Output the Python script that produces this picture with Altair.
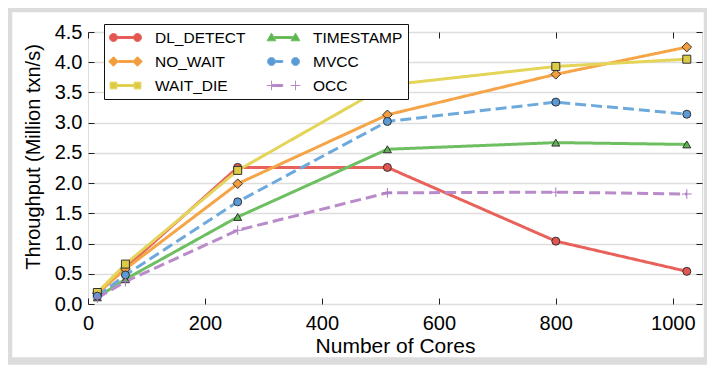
import altair as alt
import pandas as pd

# ---------------- data ----------------
cores = [16, 64, 256, 512, 800, 1024]
dl_detect = [0.17, 0.60, 2.26, 2.26, 1.04, 0.54]
no_wait = [0.18, 0.58, 1.99, 3.13, 3.80, 4.25]
wait_die = [0.19, 0.66, 2.21, 3.62, 3.93, 4.05]
timestamp = [0.11, 0.41, 1.44, 2.56, 2.67, 2.64]
mvcc = [0.13, 0.48, 1.69, 3.02, 3.34, 3.14]
occ = [0.10, 0.37, 1.22, 1.84, 1.85, 1.82]

series_names = ["DL_DETECT", "NO_WAIT", "WAIT_DIE", "TIMESTAMP", "MVCC", "OCC"]
series_values = [dl_detect, no_wait, wait_die, timestamp, mvcc, occ]
legend_order = series_names

x_ticks = [0, 200, 400, 600, 800, 1000]
y_ticks = [0.0, 0.5, 1.0, 1.5, 2.0, 2.5, 3.0, 3.5, 4.0, 4.5]

rows = []
for name, vals in zip(series_names, series_values):
    for c, v in zip(cores, vals):
        rows.append({"cores": c, "tput": v, "series": name})
df = pd.DataFrame(rows)

# ---------------- styles ----------------
line_color = {
    "DL_DETECT": "#E8625B", "NO_WAIT": "#F5A548", "WAIT_DIE": "#E4D458",
    "TIMESTAMP": "#6EBF61", "MVCC": "#6DA9DD", "OCC": "#B98BC9",
}
marker_fill = {
    "DL_DETECT": "#E35550", "NO_WAIT": "#F29E3E", "WAIT_DIE": "#DCCC45",
    "TIMESTAMP": "#5DB552", "MVCC": "#5A9BD5", "OCC": "transparent",
}
marker_edge = {
    "DL_DETECT": "#333333", "NO_WAIT": "#333333", "WAIT_DIE": "#333333",
    "TIMESTAMP": "#333333", "MVCC": "#333333", "OCC": "#A877BE",
}
legend_fill = dict(marker_fill)
legend_fill["OCC"] = "#B07CC6"
marker_shape = {
    "DL_DETECT": "circle", "NO_WAIT": "M-1.2,0L0,-1.2L1.2,0L0,1.2Z", "WAIT_DIE": "square",
    "TIMESTAMP": "triangle-up", "MVCC": "circle", "OCC": "M-1.2,0H1.2M0,-1.2V1.2",
}
dash = {
    "DL_DETECT": [1, 0], "NO_WAIT": [1, 0], "WAIT_DIE": [1, 0],
    "TIMESTAMP": [1, 0], "MVCC": [11, 5], "OCC": [11, 5],
}


def f(v):
    return f"{v:.3f}".rstrip("0").rstrip(".")


def p_circle(cx, r):
    return f"M{f(cx-r)},0A{f(r)},{f(r)} 0 1,0 {f(cx+r)},0A{f(r)},{f(r)} 0 1,0 {f(cx-r)},0Z"


def p_diamond(cx, r):
    return f"M{f(cx-r)},0L{f(cx)},{f(-r)}L{f(cx+r)},0L{f(cx)},{f(r)}Z"


def p_square(cx, r):
    return f"M{f(cx-r)},{f(-r)}H{f(cx+r)}V{f(r)}H{f(cx-r)}Z"


def p_tri(cx, r):
    return f"M{f(cx)},{f(-r)}L{f(cx+r)},{f(0.75*r)}L{f(cx-r)},{f(0.75*r)}Z"


def p_plus(cx, r):
    return f"M{f(cx-r)},0H{f(cx+r)}M{f(cx)},{f(-r)}V{f(r)}"


def p_bar(x1, x2, h=0.13):
    return f"M{f(x1)},{f(-h)}H{f(x2)}V{f(h)}H{f(x1)}Z"


A, B = -0.5, 2.5
legend_shape = {
    "DL_DETECT": p_bar(A + 0.5, B - 0.5) + p_circle(A, 0.5) + p_circle(B, 0.5),
    "NO_WAIT": p_bar(A + 0.6, B - 0.6) + p_diamond(A, 0.6) + p_diamond(B, 0.6),
    "WAIT_DIE": p_bar(A + 0.42, B - 0.42) + p_square(A, 0.42) + p_square(B, 0.42),
    "TIMESTAMP": p_bar(A + 0.35, B - 0.35) + p_tri(A, 0.55) + p_tri(B, 0.55),
    "MVCC": p_bar(A + 0.5, A + 1.4) + p_circle(A, 0.5) + p_circle(B, 0.5),
    "OCC": p_bar(A, A + 1.4) + p_plus(A, 0.6) + p_plus(B, 0.6),
}


def rng(d):
    return [d[k] for k in legend_order]


FONT = "Liberation Sans"
xscale = alt.Scale(domain=[0, 1050], nice=False, zero=False)
yscale = alt.Scale(domain=[0, 4.5], nice=False, zero=False)

tick_axis = dict(labels=False, grid=False, domain=False, ticks=True, tickSize=6,
                 tickColor="#222222", tickWidth=1, offset=-6, title=None)

# layer A: lines, with the labelled axes
lines = alt.Chart(df).mark_line(strokeWidth=3, strokeJoin="round").encode(
    x=alt.X("cores:Q", scale=xscale, axis=alt.Axis(
        orient="bottom", values=x_ticks, format="d", grid=False, ticks=False, tickSize=0,
        domain=False, labelPadding=9, labelFontSize=20, labelFlush=False,
        labelColor="black", labelFont=FONT, title="Number of Cores", titleFontSize=21,
        titleFont=FONT, titleFontWeight="normal", titleColor="black", titlePadding=2)),
    y=alt.Y("tput:Q", scale=yscale, axis=alt.Axis(
        orient="left", values=y_ticks, format=".1f", grid=True, gridColor="#dddddd",
        gridWidth=1.5, ticks=False, tickSize=0, domain=False, labelPadding=6,
        labelFontSize=20, labelColor="black", labelFont=FONT,
        title="Throughput (Million txn/s)", titleFontSize=20, titleFont=FONT,
        titleFontWeight="normal", titleColor="black", titleX=-45, titleY=124.5)),
    color=alt.Color("series:N", scale=alt.Scale(domain=legend_order, range=rng(line_color)), legend=None),
    strokeDash=alt.StrokeDash("series:N", scale=alt.Scale(domain=legend_order, range=rng(dash)), legend=None),
    detail="series:N",
)

# layer B: markers, with inner ticks on bottom/left
points = alt.Chart(df).mark_point(size=64, strokeWidth=1, opacity=1, fillOpacity=1).encode(
    x=alt.X("cores:Q", scale=xscale, axis=alt.Axis(orient="bottom", values=x_ticks, **tick_axis)),
    y=alt.Y("tput:Q", scale=yscale, axis=alt.Axis(orient="left", values=y_ticks, **tick_axis)),
    fill=alt.Fill("series:N", scale=alt.Scale(domain=legend_order, range=rng(marker_fill)), legend=None),
    stroke=alt.Stroke("series:N", scale=alt.Scale(domain=legend_order, range=rng(marker_edge)), legend=None),
    shape=alt.Shape("series:N", scale=alt.Scale(domain=legend_order, range=rng(marker_shape)), legend=None),
)

leg = alt.Legend(
    orient="none", legendX=16, legendY=-8, columns=2, title=None,
    symbolSize=256, symbolStrokeWidth=1, labelOffset=29, columnPadding=18, rowPadding=7,
    padding=5, strokeColor="#111111", fillColor="white", labelFontSize=15.5,
    labelFont=FONT, labelColor="black",
)

# layer C: invisible points carrying the legend, with inner ticks on top/right
legend_layer = alt.Chart(df).mark_point(size=0, strokeWidth=1, opacity=1).encode(
    x=alt.X("cores:Q", scale=xscale, axis=alt.Axis(orient="top", values=x_ticks, **tick_axis)),
    y=alt.Y("tput:Q", scale=yscale, axis=alt.Axis(orient="right", values=y_ticks, **tick_axis)),
    fill=alt.Fill("series:N", scale=alt.Scale(domain=legend_order, range=rng(legend_fill)), legend=leg),
    stroke=alt.Stroke("series:N", scale=alt.Scale(domain=legend_order, range=rng(line_color)), legend=leg),
    shape=alt.Shape("series:N", scale=alt.Scale(domain=legend_order, range=rng(legend_shape)), legend=leg),
)

# decorative light grey frame around the figure
frame = alt.Chart(pd.DataFrame({"k": [0]})).mark_rect(
    fill="transparent", stroke="#dcdcdc", strokeWidth=7.5
).encode(x=alt.value(-79.5), x2=alt.value(619.5), y=alt.value(-23.5), y2=alt.value(329))

chart = alt.layer(lines, points, legend_layer, frame).resolve_scale(
    fill="independent", stroke="independent", shape="independent"
).resolve_axis(x="independent", y="independent").properties(
    width=614, height=272,
    padding={"left": 80, "top": 24, "right": 5, "bottom": 61},
    autosize=alt.AutoSizeParams(type="none"),
    background="white",
).configure_view(stroke="#222222", strokeWidth=1.5).configure(font=FONT)

chart.save("out.html", embed_options={"renderer": "svg", "actions": False})
